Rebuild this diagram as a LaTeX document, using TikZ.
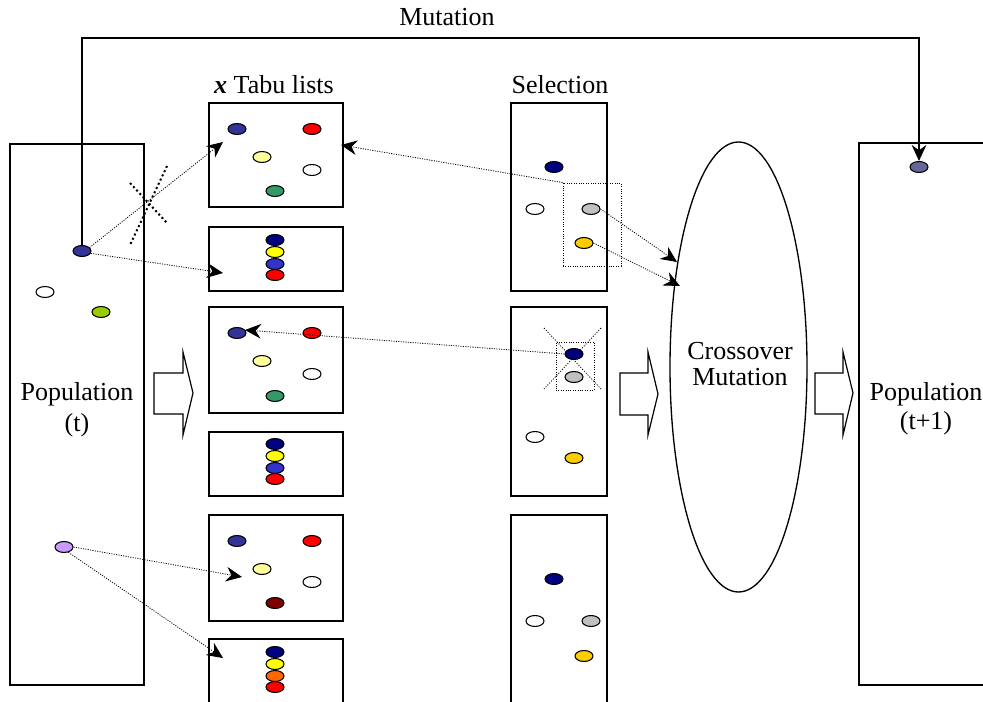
\documentclass[tikz,border=0pt]{standalone}
\usepackage{fontspec}
\setmainfont{Liberation Serif}
\usetikzlibrary{shapes.geometric,arrows.meta,fit}
\definecolor{cblue}{HTML}{333399}
\definecolor{cslate}{HTML}{666699}
\definecolor{cnavy}{HTML}{000080}
\definecolor{cyel}{HTML}{FFFF00}
\definecolor{clyel}{HTML}{FFFF99}
\definecolor{cmblue}{HTML}{3333CC}
\definecolor{cred}{HTML}{FF0000}
\definecolor{cgreen}{HTML}{339966}
\definecolor{cdred}{HTML}{800000}
\definecolor{corange}{HTML}{FF6600}
\definecolor{cgray}{HTML}{C0C0C0}
\definecolor{cgold}{HTML}{FFCC00}
\definecolor{cygreen}{HTML}{99CC00}
\definecolor{clilac}{HTML}{CC99FF}
\begin{document}
\begin{tikzpicture}[x=0.75pt,y=-0.75pt,
  font=\fontsize{19.5pt}{23pt}\selectfont,
  box/.style={draw, line width=1.2pt, inner sep=0pt},
  dot/.style={ellipse, draw, line width=0.8pt, inner sep=0pt, minimum width=13.5pt, minimum height=8.2pt, fill=#1},
  tip/.style={-{Stealth[length=12pt,width=11pt,inset=4pt]}},
  darr/.style={tip, line width=0.6pt, dash pattern=on 0.8pt off 1pt},
  dbox/.style={draw, line width=0.6pt, dash pattern=on 0.8pt off 1pt, inner sep=0pt},
  blockarrow/.style={draw, line width=0.9pt, fill=white, line join=miter}]
\useasboundingbox (0,0) rectangle (983,702);
\clip (0,0) rectangle (983,702);

% populations
\node[box, fit={(10,144) (144,685)}] (popL) {};
\node[box, fit={(859,143) (1010,685)}] (popR) {};
\node[align=center, font=\fontsize{19.5pt}{23.25pt}\selectfont] (popLt) at (77,410) {Population\\(t)};
\node[align=center, font=\fontsize{19.5pt}{22pt}\selectfont] (popRt) at (926,409) {Population\\(t+1)};

% tabu lists
\node (tabut) at (274,85) {\textbf{\textit{x}} Tabu lists};
\node[box, fit={(209,103) (343,207)}] (t1) {};
\node[box, fit={(209,227) (343,291)}] (t2) {};
\node[box, fit={(209,307) (343,413)}] (t3) {};
\node[box, fit={(209,432) (343,496)}] (t4) {};
\node[box, fit={(209,515) (343,621)}] (t5) {};
\node[box, fit={(209,639) (343,720)}] (t6) {};

% selection
\node (selt) at (560,85) {Selection};
\node[box, fit={(511,103) (607,291)}] (s1) {};
\node[box, fit={(511,307) (607,496)}] (s2) {};
\node[box, fit={(511,515) (607,720)}] (s3) {};

% crossover ellipse
\node[draw, ellipse, line width=1pt, inner sep=0pt, minimum width=102.75pt, minimum height=337.5pt] (ell) at (738.5,367) {};
\node[align=center, font=\fontsize{19.5pt}{19.5pt}\selectfont] (cm) at (740,364) {Crossover\\Mutation};

% block arrows
\draw[blockarrow] (154,373) -- (183,373) -- (183,352) -- (193,393) -- (183,435) -- (183,414) -- (154,414) -- cycle;
\draw[blockarrow] (620,373) -- (648,373) -- (648,352) -- (658,394) -- (648,435) -- (648,415) -- (620,415) -- cycle;
\draw[blockarrow] (815,373) -- (843,373) -- (843,352) -- (853,393) -- (843,435) -- (843,414) -- (815,414) -- cycle;

% population (t) dots
\node[dot=cblue] (p1) at (82,251) {};
\node[dot=white] (p2) at (45,292) {};
\node[dot=cygreen] (p3) at (101,312) {};
\node[dot=clilac] (p4) at (64,547) {};
% population (t+1) dot
\node[dot=cslate] (r1) at (919,167) {};

% tabu box 1
\node[dot=cblue] (t1a) at (237,129) {};
\node[dot=cred] (t1b) at (312,129) {};
\node[dot=clyel] (t1c) at (262,157) {};
\node[dot=white] (t1d) at (312,170) {};
\node[dot=cgreen] (t1e) at (275,191) {};
% tabu box 2
\node[dot=cnavy] (t2a) at (275,240) {};
\node[dot=cyel] (t2b) at (275,252) {};
\node[dot=cmblue] (t2c) at (275,264) {};
\node[dot=cred] (t2d) at (275,275) {};
% tabu box 3
\node[dot=cblue] (t3a) at (237,333) {};
\node[dot=cred] (t3b) at (312,333) {};
\node[dot=clyel] (t3c) at (262,361) {};
\node[dot=white] (t3d) at (312,374) {};
\node[dot=cgreen] (t3e) at (275,396) {};
% tabu box 4
\node[dot=cnavy] (t4a) at (275,444) {};
\node[dot=cyel] (t4b) at (275,456) {};
\node[dot=cmblue] (t4c) at (275,468) {};
\node[dot=cred] (t4d) at (275,479) {};
% tabu box 5
\node[dot=cblue] (t5a) at (237,541) {};
\node[dot=cred] (t5b) at (312,541) {};
\node[dot=clyel] (t5c) at (262,569) {};
\node[dot=white] (t5d) at (312,582) {};
\node[dot=cdred] (t5e) at (275,603) {};
% tabu box 6
\node[dot=cnavy] (t6a) at (275,652) {};
\node[dot=cyel] (t6b) at (275,664) {};
\node[dot=corange] (t6c) at (275,676) {};
\node[dot=cred] (t6d) at (275,687) {};

% selection box 1
\node[dot=cnavy] (s1a) at (554,167) {};
\node[dot=white] (s1b) at (535,209) {};
\node[dot=cgray] (s1c) at (591,209) {};
\node[dot=cgold] (s1d) at (584,243) {};
\node[dbox, fit={(563,183) (621,266)}] (sA) {};
% selection box 2
\node[dot=cnavy] (s2a) at (574,354) {};
\node[dot=cgray] (s2b) at (574,377) {};
\node[dot=white] (s2c) at (535,437) {};
\node[dot=cgold] (s2d) at (574,458) {};
\node[dbox, fit={(556,342) (594,390)}] (sB) {};
\draw[line width=0.6pt, dash pattern=on 0.8pt off 1.2pt] (544,328) -- (601,389);
\draw[line width=0.6pt, dash pattern=on 0.8pt off 1.2pt] (601,328) -- (544,389);
% selection box 3
\node[dot=cnavy] (s3a) at (554,579) {};
\node[dot=white] (s3b) at (535,621) {};
\node[dot=cgray] (s3c) at (591,621) {};
\node[dot=cgold] (s3d) at (584,656) {};

% end points
\coordinate (e1) at (223,142);
\coordinate (e2) at (223,273);
\coordinate (e3) at (341,145);
\coordinate (e4) at (677,262);
\coordinate (e5) at (680,286);
\coordinate (e6) at (245,330);
\coordinate (e7) at (242,577);
\coordinate (e8) at (223,658);
\coordinate (mt) at (0,38);

% dotted connectors
\draw[darr] (p1.25) -- (e1);
\draw[darr] (p1.-15) -- (e2);
\draw[darr] (sA.north west) -- (e3);
\draw[darr] (s1c.east) -- (e4);
\draw[darr] (s1d.east) -- (e5);
\draw[darr] (s2a.west) -- (e6);
\draw[darr] (p4.east) -- (e7);
\draw[darr] (p4.-50) -- (e8);

% crossed-out mark
\draw[line width=1.5pt, dash pattern=on 1.5pt off 2pt] (130,183) -- (167,223);
\draw[line width=1.5pt, dash pattern=on 1.5pt off 2pt] (167,166) -- (130,245);

% mutation arrow
\draw[tip, line width=1pt] (p1.north) -- (p1.north |- mt) -| (r1.north);
\node (mutt) at (447,17) {Mutation};
\end{tikzpicture}
\end{document}
